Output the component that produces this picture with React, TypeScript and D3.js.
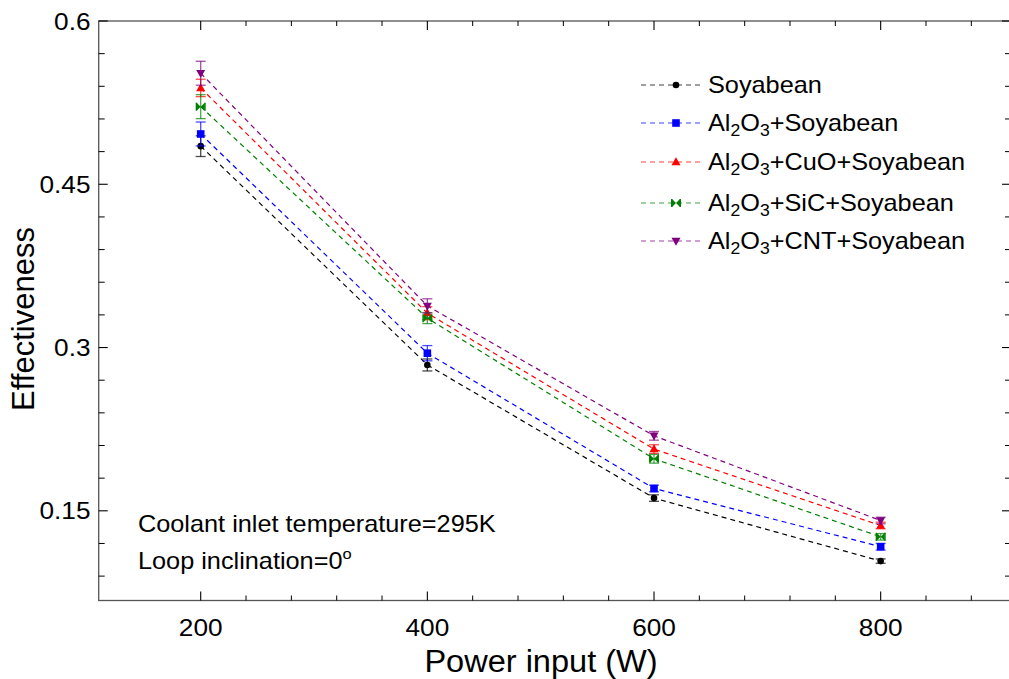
import React from "react";
import * as d3 from "d3";

const powers = [200, 400, 600, 800];
const seriesNames = ["Soyabean", "Al2O3+Soyabean", "Al2O3+CuO+Soyabean", "Al2O3+SiC+Soyabean", "Al2O3+CNT+Soyabean"];
const soyabean = [0.485, 0.284, 0.1617, 0.1038];
const soyabeanErr = [0.0095, 0.0055, 0.003, 0.002];
const al2o3 = [0.4962, 0.2948, 0.1705, 0.117];
const al2o3Err = [0.011, 0.007, 0.003, 0.003];
const cuo = [0.5385, 0.3316, 0.2067, 0.1365];
const cuoErr = [0.008, 0.006, 0.004, 0.003];
const sic = [0.5213, 0.327, 0.1978, 0.1261];
const sicErr = [0.011, 0.005, 0.004, 0.003];
const cnt = [0.552, 0.3383, 0.2189, 0.1411];
const cntErr = [0.011, 0.0065, 0.004, 0.003];
const colors = ["#000000", "#0000ff", "#ff0000", "#008000", "#800080"];
const markers = ["circle", "square", "triUp", "bowtie", "triDown"];
const xMajor = [200, 400, 600, 800];
const yMajor = [0.15, 0.3, 0.45, 0.6];
const yLabels = ["0.15", "0.3", "0.45", "0.6"];

const W = 1009, H = 679;
const FONT = "'Liberation Sans', Arial, sans-serif";

function Txt({ x, y, sx = 1.12, size, anchor = "start", children }: any) {
  return (
    <text transform={`translate(${x},${y}) scale(${sx},1)`} textAnchor={anchor} fontSize={size} fontFamily={FONT} fill="#000">
      {children}
    </text>
  );
}

function Marker({ type, x, y, color }: { type: string; x: number; y: number; color: string }) {
  if (type === "circle") return <circle cx={x} cy={y} r={3.3} fill={color} />;
  if (type === "square") return <rect x={x - 3.8} y={y - 3.8} width={7.6} height={7.6} fill={color} />;
  if (type === "triUp") return <path d={`M${x},${y - 4.8}L${x + 4.5},${y + 3.2}L${x - 4.5},${y + 3.2}Z`} fill={color} />;
  if (type === "triDown") return <path d={`M${x},${y + 4.8}L${x + 4.5},${y - 3.2}L${x - 4.5},${y - 3.2}Z`} fill={color} />;
  return (
    <g>
      <path d={`M${x - 4},${y - 4}L${x},${y}L${x - 4},${y + 4}Z M${x + 4},${y - 4}L${x},${y}L${x + 4},${y + 4}Z`} fill={color} />
      <line x1={x - 4.3} x2={x - 4.3} y1={y - 4} y2={y + 4} stroke={color} strokeWidth={1.4} />
      <line x1={x + 4.3} x2={x + 4.3} y1={y - 4} y2={y + 4} stroke={color} strokeWidth={1.4} />
    </g>
  );
}

function LegendLabel({ name, x, y }: { name: string; x: number; y: number }) {
  if (!name.startsWith("Al2O3")) {
    return <Txt x={x} y={y} size={23} sx={1.1}>{name}</Txt>;
  }
  const rest = name.slice(5);
  return (
    <Txt x={x} y={y} size={23} sx={1.1}>
      <tspan>Al</tspan>
      <tspan fontSize={16} dy={5}>2</tspan>
      <tspan dy={-5}>O</tspan>
      <tspan fontSize={16} dy={5}>3</tspan>
      <tspan dy={-5}>{rest}</tspan>
    </Txt>
  );
}

export default function App() {
  const left = 98.7, right = 1011, top = 21, bottom = 600.5;
  const x = d3.scaleLinear().domain([110, 915]).range([left, right]);
  const y = d3.scaleLinear().domain([0.0676, 0.6]).range([bottom, top]);
  const values = [soyabean, al2o3, cuo, sic, cnt];
  const errs = [soyabeanErr, al2o3Err, cuoErr, sicErr, cntErr];
  const line = d3.line<number>().x((_, i) => x(powers[i])).y((d) => y(d));

  const xMinor = d3.range(240, 900, 40).filter((v) => v % 200 !== 0);
  const yMinor = d3.range(9, 60, 3).map((v) => v / 100).filter((v) => Math.round(v * 100) % 15 !== 0);

  const frame = "#555";
  const legendY = [85, 123, 162, 203, 241];

  return (
    <svg width={W} height={H} style={{ position: "absolute", left: 0, top: 0, background: "#fff" }}>
      <rect x={0} y={0} width={W} height={H} fill="#fff" />
      <rect x={left} y={top} width={right - left} height={bottom - top} fill="none" stroke={frame} strokeWidth={1.3} />
      {xMajor.map((v) => (
        <g key={"xm" + v}>
          <line x1={x(v)} x2={x(v)} y1={bottom} y2={bottom - 9} stroke="#000" strokeWidth={1.1} />
          <line x1={x(v)} x2={x(v)} y1={top} y2={top + 9} stroke="#000" strokeWidth={1.1} />
          <Txt x={x(v)} y={636} size={23} sx={1.14} anchor="middle">{v}</Txt>
        </g>
      ))}
      {xMinor.map((v) => (
        <g key={"xn" + v}>
          <line x1={x(v)} x2={x(v)} y1={bottom} y2={bottom - 5} stroke="#000" strokeWidth={1} />
          <line x1={x(v)} x2={x(v)} y1={top} y2={top + 5} stroke="#000" strokeWidth={1} />
        </g>
      ))}
      {yMajor.map((v, i) => (
        <g key={"ym" + v}>
          <line x1={left} x2={left + 9} y1={y(v)} y2={y(v)} stroke="#000" strokeWidth={1.1} />
          <line x1={right} x2={right - 9} y1={y(v)} y2={y(v)} stroke="#000" strokeWidth={1.1} />
          <Txt x={90.5} y={y(v) + 8.5} size={23} sx={1.14} anchor="end">{yLabels[i]}</Txt>
        </g>
      ))}
      {yMinor.map((v) => (
        <g key={"yn" + v}>
          <line x1={left} x2={left + 6} y1={y(v)} y2={y(v)} stroke="#000" strokeWidth={1} />
          <line x1={right} x2={right - 6} y1={y(v)} y2={y(v)} stroke="#000" strokeWidth={1} />
        </g>
      ))}
      <Txt x={541} y={672} size={31} sx={1.05} anchor="middle">Power input (W)</Txt>
      <text transform="translate(34,319) rotate(-90)" textAnchor="middle" fontSize={31} fontFamily={FONT}>Effectiveness</text>
      {values.map((vals, s) => (
        <g key={"s" + s}>
          <path d={line(vals) || ""} fill="none" stroke={colors[s]} strokeWidth={1.2} strokeDasharray="5,4" />
          {vals.map((v, i) => {
            const cx = x(powers[i]);
            const y1 = y(v + errs[s][i]);
            const y2 = y(v - errs[s][i]);
            return (
              <g key={i} stroke={colors[s]} strokeOpacity={0.7} strokeWidth={1.3}>
                <line x1={cx} x2={cx} y1={y1} y2={y2} />
                <line x1={cx - 5} x2={cx + 5} y1={y1} y2={y1} />
                <line x1={cx - 5} x2={cx + 5} y1={y2} y2={y2} />
              </g>
            );
          })}
          {vals.map((v, i) => (
            <Marker key={"m" + i} type={markers[s]} x={x(powers[i])} y={y(v)} color={colors[s]} />
          ))}
        </g>
      ))}
      {seriesNames.map((name, s) => (
        <g key={"l" + s}>
          <line x1={641} x2={702} y1={legendY[s]} y2={legendY[s]} stroke={colors[s]} strokeOpacity={0.75} strokeWidth={1.2} strokeDasharray="5,4" />
          <Marker type={markers[s]} x={676} y={legendY[s]} color={colors[s]} />
          <LegendLabel name={name} x={708} y={legendY[s] + 8} />
        </g>
      ))}
      <Txt x={138} y={532} size={23} sx={1.1}>Coolant inlet temperature=295K</Txt>
      <Txt x={138} y={569} size={23} sx={1.1}>
        Loop inclination=0<tspan fontSize={15} dy={-10}>o</tspan>
      </Txt>
    </svg>
  );
}
